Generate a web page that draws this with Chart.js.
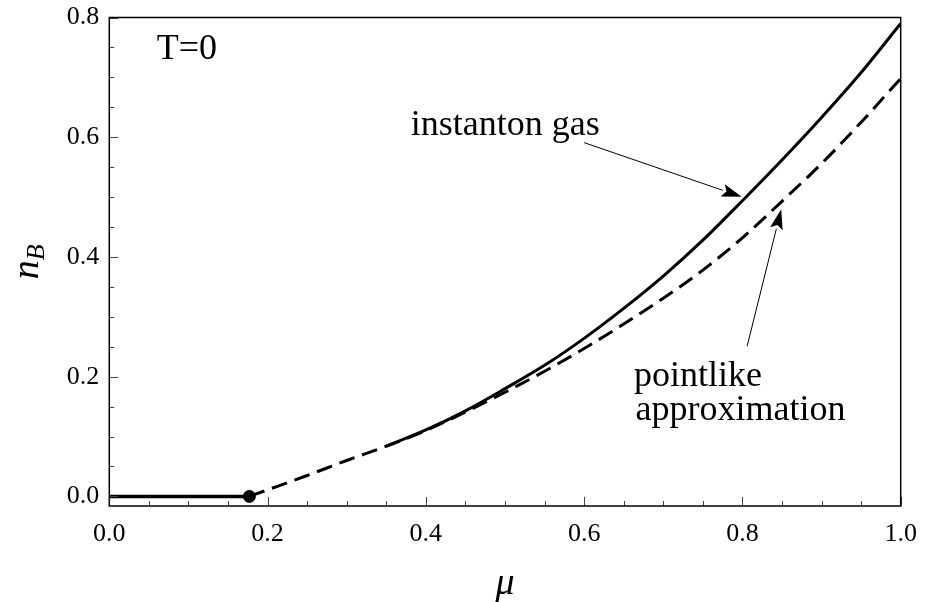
<!DOCTYPE html>
<html>
<head>
<meta charset="utf-8">
<script src="https://cdn.jsdelivr.net/npm/chart.js@4.4.0/dist/chart.umd.min.js"></script>
<style>
html, body { margin: 0; padding: 0; background: #fff; }
#wrap { width: 935px; height: 602px; }
</style>
</head>
<body>
<div id="wrap"><canvas id="nbChart" width="935" height="602"></canvas></div>
<script>
// baryon density n_B vs chemical potential mu at T=0
var muCrit = 0.177;

var muFlat = [0, 0.177];
var nbFlat = [0, 0];

var muPoint = [0.177, 0.2, 0.25, 0.3, 0.35, 0.4, 0.45, 0.5, 0.55, 0.6, 0.65, 0.7, 0.75, 0.8, 0.85, 0.9, 0.95, 1.0];
var nbPoint = [0, 0.011, 0.035, 0.060, 0.084, 0.110, 0.141, 0.174, 0.209, 0.247, 0.288, 0.331, 0.378, 0.432, 0.493, 0.556, 0.625, 0.698];

var muInst = [0.35, 0.4, 0.45, 0.5, 0.55, 0.6, 0.65, 0.7, 0.75, 0.8, 0.85, 0.9, 0.95, 1.0];
var nbInst = [0.084, 0.111, 0.143, 0.180, 0.219, 0.264, 0.314, 0.368, 0.428, 0.494, 0.562, 0.633, 0.708, 0.790];

var xTickVals = [0, 0.2, 0.4, 0.6, 0.8, 1.0];
var yTickVals = [0, 0.2, 0.4, 0.6, 0.8];

function pts(xs, ys) {
	var out = [];
	for (var i = 0; i < xs.length; i++) out.push({x: xs[i], y: ys[i]});
	return out;
}

var serif = "'Liberation Serif', 'DejaVu Serif', serif";

// labels and arrows, positioned in data units
var notes = [
	{text: 'T=0', x: 0.060, y: 0.730},
	{text: 'instanton gas', x: 0.381, y: 0.603},
	{text: 'pointlike', x: 0.663, y: 0.185},
	{text: 'approximation', x: 0.665, y: 0.128}
];
var arrows = [
	{x0: 0.600, y0: 0.591, x1: 0.799, y1: 0.5005},
	{x0: 0.806, y0: 0.251, x1: 0.849, y1: 0.4795}
];

var decorPlugin = {
	id: 'decor',
	afterDraw: function(chart) {
		var ctx = chart.ctx, a = chart.chartArea;
		var xs = chart.scales.x, ys = chart.scales.y;
		ctx.save();

		// inward ticks
		ctx.strokeStyle = '#444';
		ctx.lineWidth = 1;
		for (var i = 0; i <= 20; i++) {
			var v = i * 0.05;
			var px = Math.round(xs.getPixelForValue(v)) + 0.5;
			var len = (i % 4 === 0) ? 9 : 5;
			ctx.beginPath();
			ctx.moveTo(px, a.bottom);
			ctx.lineTo(px, a.bottom - len);
			ctx.stroke();
		}
		for (var j = 0; j <= 16; j++) {
			var w = j * 0.05;
			var py = Math.round(ys.getPixelForValue(w)) + 0.5;
			var l2 = (j % 4 === 0) ? 9 : 5;
			ctx.beginPath();
			ctx.moveTo(a.left, py);
			ctx.lineTo(a.left + l2, py);
			ctx.stroke();
		}

		// frame
		ctx.strokeStyle = '#000';
		ctx.lineWidth = 1.5;
		ctx.strokeRect(a.left, a.top, a.right - a.left, a.bottom - a.top);

		// annotations
		ctx.fillStyle = '#000';
		ctx.font = '36px ' + serif;
		ctx.textAlign = 'left';
		ctx.textBaseline = 'alphabetic';
		notes.forEach(function(n) {
			ctx.fillText(n.text, xs.getPixelForValue(n.x), ys.getPixelForValue(n.y));
		});

		ctx.lineWidth = 1;
		arrows.forEach(function(ar) {
			var x0 = xs.getPixelForValue(ar.x0), y0 = ys.getPixelForValue(ar.y0);
			var x1 = xs.getPixelForValue(ar.x1), y1 = ys.getPixelForValue(ar.y1);
			var ang = Math.atan2(y1 - y0, x1 - x0);
			var hl = 20, hw = 6.5;
			var bx = x1 - hl * Math.cos(ang), by = y1 - hl * Math.sin(ang);
			ctx.beginPath();
			ctx.moveTo(x0, y0);
			ctx.lineTo(bx, by);
			ctx.stroke();
			ctx.beginPath();
			ctx.moveTo(x1, y1);
			ctx.lineTo(bx + hw * Math.sin(ang), by - hw * Math.cos(ang));
			ctx.lineTo(bx + 0.2 * hl * Math.cos(ang), by + 0.2 * hl * Math.sin(ang));
			ctx.lineTo(bx - hw * Math.sin(ang), by + hw * Math.cos(ang));
			ctx.closePath();
			ctx.fill();
		});

		// axis titles
		ctx.font = 'italic 38px ' + serif;
		ctx.textAlign = 'center';
		ctx.fillText('\u03bc', (a.left + a.right) / 2, 594);

		ctx.translate(38, (a.top + a.bottom) / 2);
		ctx.rotate(-Math.PI / 2);
		ctx.textAlign = 'left';
		var nW = ctx.measureText('n').width;
		ctx.font = 'italic 26px ' + serif;
		var bW = ctx.measureText('B').width;
		var start = -(nW + bW) / 2;
		ctx.font = 'italic 38px ' + serif;
		ctx.fillText('n', start, 0);
		ctx.font = 'italic 26px ' + serif;
		ctx.fillText('B', start + nW, 6);

		ctx.restore();
	}
};

new Chart(document.getElementById('nbChart'), {
	type: 'line',
	data: {
		datasets: [
			{
				data: pts(muPoint, nbPoint),
				borderColor: '#000',
				borderWidth: 3,
				borderDash: [16, 8],
				pointRadius: 0,
				cubicInterpolationMode: 'monotone',
				fill: false
			},
			{
				data: pts(muInst, nbInst),
				borderColor: '#000',
				borderWidth: 3,
				pointRadius: 0,
				cubicInterpolationMode: 'monotone',
				fill: false
			},
			{
				data: pts(muFlat, nbFlat),
				borderColor: '#000',
				borderWidth: 3.5,
				pointRadius: 0,
				fill: false
			},
			{
				data: [{x: muCrit, y: 0}],
				borderColor: '#000',
				backgroundColor: '#000',
				pointRadius: 6,
				showLine: false
			}
		]
	},
	options: {
		responsive: false,
		animation: false,
		events: [],
		layout: {padding: {top: 17.5, right: 34.3, left: 0, bottom: 0}},
		plugins: {legend: {display: false}, tooltip: {enabled: false}},
		scales: {
			x: {
				type: 'linear',
				min: 0,
				max: 1,
				afterBuildTicks: function(s) { s.ticks = xTickVals.map(function(v) { return {value: v}; }); },
				afterFit: function(s) { s.height = 96; s.paddingLeft = 0; s.paddingRight = 0; },
				ticks: {
					callback: function(v) { return v.toFixed(1); },
					font: {family: serif, size: 26},
					color: '#000',
					padding: 13,
					maxRotation: 0
				},
				grid: {drawOnChartArea: false, drawTicks: false},
				border: {display: false}
			},
			y: {
				type: 'linear',
				min: -0.016,
				max: 0.8,
				afterBuildTicks: function(s) { s.ticks = yTickVals.map(function(v) { return {value: v}; }); },
				afterFit: function(s) { s.width = 109.3; s.paddingTop = 0; s.paddingBottom = 0; },
				ticks: {
					callback: function(v) { return v.toFixed(1); },
					font: {family: serif, size: 26},
					color: '#000',
					padding: 10
				},
				grid: {drawOnChartArea: false, drawTicks: false},
				border: {display: false}
			}
		}
	},
	plugins: [decorPlugin]
});
</script>
</body>
</html>
